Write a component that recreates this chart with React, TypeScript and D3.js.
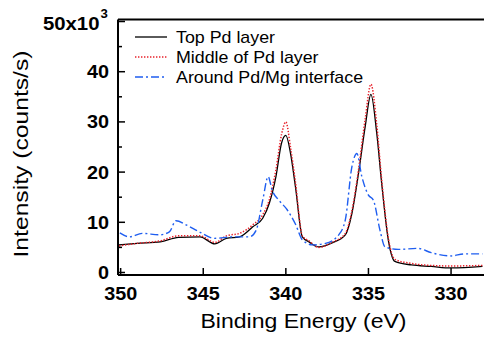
import React from "react";
import * as d3 from "d3";

const topE = [350.1, 349.0, 347.6, 346.5, 345.2, 344.3, 343.6, 342.8, 342.0, 341.4, 341.0, 340.6, 340.26, 340.0, 339.72, 339.42, 339.0, 338.6, 338.0, 337.2, 336.4, 336.0, 335.6, 335.2, 334.85, 334.5, 334.2, 333.8, 333.4, 332.4, 331.2, 330.0, 328.1];
const topV = [5.5, 5.8, 6.1, 7.0, 7.1, 5.7, 6.8, 7.1, 9.1, 10.8, 13.8, 19.1, 25.8, 27.3, 23.8, 17.1, 7.1, 6.1, 5.1, 5.9, 7.5, 11.8, 19.8, 29.0, 35.5, 27.8, 17.8, 6.5, 2.2, 1.5, 1.2, 0.9, 1.2];

const midE = [350.1, 349.0, 347.6, 346.5, 345.2, 344.3, 343.6, 342.8, 342.0, 341.4, 341.0, 340.6, 340.26, 340.0, 339.72, 339.42, 339.0, 338.6, 338.0, 337.2, 336.4, 336.0, 335.6, 335.2, 334.85, 334.5, 334.2, 333.8, 333.4, 332.4, 331.2, 330.0, 328.1];
const midV = [5.3, 5.8, 6.3, 7.3, 7.3, 6.0, 7.3, 7.8, 9.5, 11.5, 14.5, 20.5, 27.5, 30.0, 25.0, 18.0, 7.3, 6.3, 5.0, 6.0, 7.8, 12.3, 20.5, 30.5, 37.5, 29.5, 18.5, 7.0, 2.6, 1.8, 1.4, 1.3, 1.4];

const ifE = [350.05, 349.46, 348.7, 347.65, 347.05, 346.65, 346.04, 345.24, 344.34, 343.2, 342.2, 341.8, 341.4, 341.07, 340.83, 340.42, 339.92, 339.4, 339.0, 338.4, 337.6, 336.8, 336.4, 336.0, 335.7, 335.4, 335.0, 334.7, 334.3, 334.0, 333.2, 332.0, 331.2, 330.0, 329.2, 328.1];
const ifV = [7.9, 7.1, 7.8, 7.5, 8.1, 10.3, 9.5, 8.1, 6.8, 7.1, 7.1, 8.4, 14.4, 19.1, 16.4, 14.4, 12.5, 9.5, 6.5, 5.5, 5.8, 7.5, 10.5, 21.1, 23.7, 19.1, 15.4, 14.4, 8.4, 5.1, 4.6, 4.8, 3.95, 3.3, 3.7, 3.7];

const seriesNames = ["Top Pd layer", "Middle of Pd layer", "Around Pd/Mg interface"];
const xTicks = [350, 345, 340, 335, 330];
const yTicks = [0, 10, 20, 30, 40, 50];
const yMinor = [5, 15, 25, 35, 45];

const W = 484, H = 341;
const L = 118, T = 19.5, R = 490, B = 275;
const FONT = "'Liberation Sans', Arial, sans-serif";
const SX = 1.1;

export default function App() {
  const x = d3.scaleLinear().domain([350.16, 327.8]).range([L, R - 2.6]);
  const y = d3.scaleLinear().domain([-0.5, 50.4]).range([B, T]);
  const line = d3
    .line<[number, number]>()
    .x((d) => x(d[0]))
    .y((d) => y(d[1]))
    .curve(d3.curveMonotoneX);
  const zip = (e: number[], v: number[]) => e.map((ev, i) => [ev, v[i]] as [number, number]);
  const series = [
    { d: zip(topE, topV), color: "#000000", dash: "", w: 1.3 },
    { d: zip(midE, midV), color: "#e8202a", dash: "1.4,1.6", w: 1.5 },
    { d: zip(ifE, ifV), color: "#1f5ef0", dash: "8,3,2,3", w: 1.4 },
  ];
  const txt = (tx: number, ty: number, s: string, size: number, anchor: string, weight = "normal") => (
    <text
      transform={`translate(${tx},${ty}) scale(${SX},1)`}
      fontSize={size}
      fontFamily={FONT}
      fontWeight={weight}
      textAnchor={anchor}
      fill="#000"
    >
      {s}
    </text>
  );
  return (
    <svg width={W} height={H} style={{ position: "absolute", left: 0, top: 0, background: "#fff" }}>
      <defs>
        <clipPath id="plot">
          <rect x={L} y={T} width={R - L} height={B - T} />
        </clipPath>
      </defs>
      <g clipPath="url(#plot)">
        {series.map((s, i) => (
          <path key={i} d={line(s.d) || ""} fill="none" stroke={s.color} strokeWidth={s.w} strokeDasharray={s.dash} />
        ))}
      </g>
      {/* frame */}
      <line x1={L} x2={L} y1={T} y2={B} stroke="#000" strokeWidth={2} />
      <line x1={L} x2={R} y1={B} y2={B} stroke="#000" strokeWidth={2} />
      <line x1={L} x2={R} y1={T} y2={T} stroke="#000" strokeWidth={2} />
      {/* y ticks */}
      {yTicks.map((t) => (
        <line key={"y" + t} x1={L} x2={L + 7} y1={y(t)} y2={y(t)} stroke="#000" strokeWidth={1.5} />
      ))}
      {yMinor.map((t) => (
        <line key={"ym" + t} x1={L} x2={L + 4} y1={y(t)} y2={y(t)} stroke="#000" strokeWidth={1.5} />
      ))}
      {yTicks.slice(0, 5).map((t) => (
        <g key={"yl" + t}>{txt(109, y(t) + 6.5, String(t), 18, "end", "bold")}</g>
      ))}
      <g>
        {txt(99.5, 29.5, "50x10", 18.5, "end", "bold")}
        {txt(100.5, 18, "3", 12, "start", "bold")}
      </g>
      {/* x ticks */}
      {xTicks.map((t) => (
        <g key={"x" + t}>
          <line x1={x(t)} x2={x(t)} y1={B} y2={B - 7} stroke="#000" strokeWidth={1.5} />
          {txt(x(t), 300, String(t), 18, "middle", "bold")}
        </g>
      ))}
      <text
        x={303.5}
        y={328}
        fontSize={20}
        fontFamily={FONT}
        textAnchor="middle"
        textLength={206}
        lengthAdjust="spacingAndGlyphs"
        fill="#000"
      >
        Binding Energy (eV)
      </text>
      <text
        transform={`translate(28,154) rotate(-90)`}
        fontSize={20.5}
        fontFamily={FONT}
        textAnchor="middle"
        textLength={207}
        lengthAdjust="spacingAndGlyphs"
        fill="#000"
      >
        Intensity (counts/s)
      </text>
      {/* legend */}
      {series.map((s, i) => (
        <g key={"lg" + i}>
          <line x1={135} x2={167} y1={37 + i * 20} y2={37 + i * 20} stroke={s.color} strokeWidth={s.w} strokeDasharray={s.dash} />
          {txt(176, 42.5 + i * 20, seriesNames[i], 16.2, "start")}
        </g>
      ))}
    </svg>
  );
}
